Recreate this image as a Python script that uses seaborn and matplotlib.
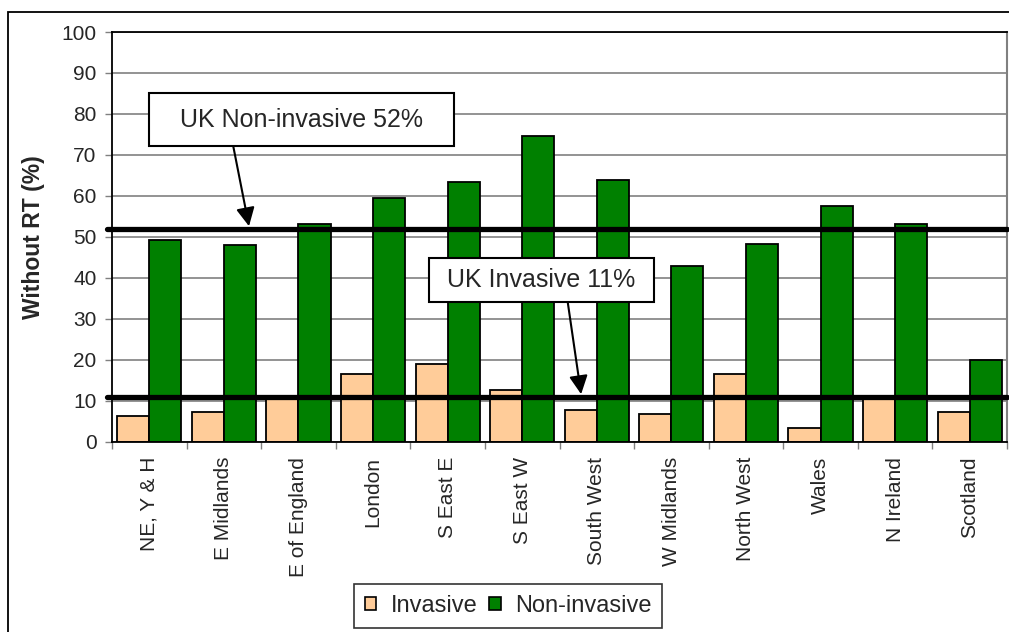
import matplotlib
matplotlib.use("Agg")
import matplotlib.pyplot as plt
from matplotlib.patches import Rectangle
import seaborn as sns
import pandas as pd

# Share of patients without radiotherapy, by region
regions = ["NE, Y & H", "E Midlands", "E of England", "London", "S East E",
           "S East W", "South West", "W Midlands", "North West", "Wales",
           "N Ireland", "Scotland"]
invasive = [6.3, 7.3, 10.5, 16.6, 19.0, 12.6, 7.7, 6.8, 16.6, 3.4, 10.5, 7.3]
non_invasive = [49.3, 47.9, 53.1, 59.5, 63.4, 74.6, 63.9, 42.9, 48.3, 57.6, 53.1, 19.9]
series_names = ["Invasive", "Non-invasive"]
series_colors = ["#FFCC99", "#008000"]

# UK-wide reference levels
uk_noninvasive = 52
uk_invasive = 11
uk_noninvasive_label = "UK Non-invasive 52%"
uk_invasive_label = "UK Invasive 11%"

y_label = "Without RT (%)"
y_ticks = list(range(0, 101, 10))

df = pd.DataFrame({
    "region": regions * 2,
    "value": invasive + non_invasive,
    "type": [series_names[0]] * len(regions) + [series_names[1]] * len(regions),
})

sns.set_theme(style="white")
plt.rcParams["font.family"] = ["Liberation Sans", "DejaVu Sans"]

W, H = 1009, 632
fig = plt.figure(figsize=(W / 100, H / 100), dpi=100)
ax = fig.add_axes([112 / W, 1 - 441.7 / H, 895 / W, 409.7 / H])

sns.barplot(data=df, x="region", y="value", hue="type", order=regions,
            hue_order=series_names, palette=series_colors, saturation=1,
            width=0.86, edgecolor="black", linewidth=1.3, ax=ax)

handles, labels = ax.get_legend_handles_labels()
if ax.get_legend() is not None:
    ax.get_legend().remove()

ax.set_xlim(-0.5, len(regions) - 0.5)
ax.set_ylim(0, 100)
ax.set_yticks(y_ticks)
ax.set_yticklabels([str(t) for t in y_ticks], fontsize=15)
ax.set_xlabel("")
ax.set_ylabel(y_label, fontsize=16.5, fontweight="bold")
ax.yaxis.set_label_coords(-0.075, 0.5)

# category labels at centres, tick marks at the boundaries
ax.set_xticks(range(len(regions)))
ax.set_xticklabels(regions, rotation=90, fontsize=15, va="top", ha="center")
ax.set_xticks([i - 0.5 for i in range(len(regions) + 1)], minor=True)
ax.tick_params(axis="x", which="major", length=0, pad=11)
ax.tick_params(axis="x", which="minor", length=5, width=1, color="#808080",
               direction="out", bottom=True)
ax.tick_params(axis="y", which="major", length=5, width=1, color="#808080",
               direction="out", left=True, pad=6)

ax.set_axisbelow(True)
ax.yaxis.grid(True, color="#808080", lw=1.2)
ax.xaxis.grid(False)
for side in ["left", "bottom", "top"]:
    ax.spines[side].set_color("black")
    ax.spines[side].set_linewidth(1.3)
ax.spines["right"].set_color("#808080")
ax.spines["right"].set_linewidth(1.5)

# UK reference lines
for level in (uk_noninvasive, uk_invasive):
    ax.axhline(level, xmin=-0.006, xmax=1, color="black", lw=3.8,
               zorder=4, clip_on=False)

# Label boxes with arrows pointing at the reference lines
def label_box(x0, x1, y0, y1, text):
    ax.add_patch(Rectangle((x0, y0), x1 - x0, y1 - y0, facecolor="white",
                           edgecolor="black", lw=1.5, zorder=6))
    ax.text((x0 + x1) / 2, (y0 + y1) / 2, text, fontsize=18, ha="center",
            va="center", zorder=7)

label_box(-0.004, 4.086, 72.1, 85.0, uk_noninvasive_label)
label_box(3.75, 6.77, 34.1, 44.8, uk_invasive_label)

arrow = dict(arrowstyle="-|>", mutation_scale=28, lw=1.5, color="black",
             shrinkA=0, shrinkB=0)
ax.annotate("", xy=(1.337, uk_noninvasive + 0.6), xytext=(1.126, 72.1),
            arrowprops=arrow, zorder=5)
ax.annotate("", xy=(5.79, uk_invasive + 0.6), xytext=(5.61, 34.1),
            arrowprops=arrow, zorder=5)

leg = fig.legend(handles, labels, loc="center", bbox_to_anchor=(508 / W, 1 - 606 / H),
                 ncol=2, fontsize=17, frameon=True, fancybox=False, shadow=False,
                 handlelength=0.5, handleheight=0.5, handletextpad=0.6,
                 columnspacing=0.5, borderpad=0.45)
leg.get_frame().set_edgecolor("black")
leg.get_frame().set_linewidth(1.2)
for h in leg.legend_handles:
    h.set_edgecolor("black")
    h.set_linewidth(1.2)

# outer chart border
fig.add_artist(Rectangle((8 / W, -0.05), 1.1, 1 - 12 / H + 0.05,
                         transform=fig.transFigure, fill=False,
                         edgecolor="black", lw=1.3))

fig.savefig("out.png", dpi=100)
